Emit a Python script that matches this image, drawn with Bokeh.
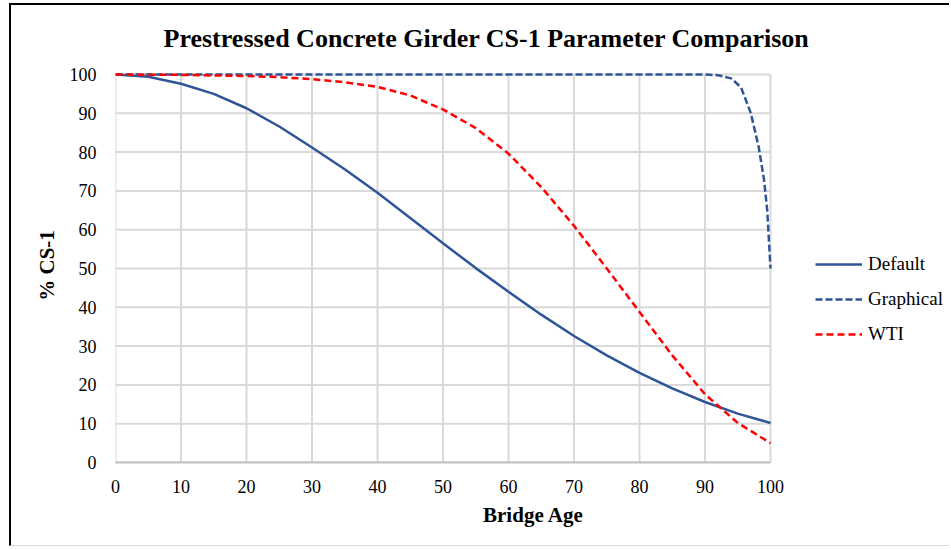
from bokeh.plotting import figure
from bokeh.models import Range1d, Legend, LegendItem, FixedTicker, Label
from bokeh.embed import file_html
from bokeh.resources import INLINE

# ---- data ----
age_default = [0, 5, 10, 15, 20, 25, 30, 35, 40, 45, 50, 55, 60, 65, 70, 75, 80, 85, 90, 95, 100]
pct_default = [100, 99.4, 97.6, 95, 91.3, 86.6, 81.2, 75.6, 69.5, 63.0, 56.5, 50.1, 44.0, 38.1, 32.6, 27.6, 23.1, 19.1, 15.6, 12.6, 10.2]

age_graphical = [0, 90, 92, 94, 95.5, 97, 98.2, 99, 99.5, 100]
pct_graphical = [100, 100, 99.8, 99.0, 96.7, 90.0, 81.3, 73.0, 65.0, 50.0]

age_wti = [0, 10, 20, 25, 30, 35, 40, 45, 50, 55, 60, 65, 70, 75, 80, 85, 90, 95, 100]
pct_wti = [100, 99.9, 99.6, 99.3, 98.8, 98.0, 96.8, 94.6, 91.0, 86.2, 79.6, 71.0, 61.0, 50.0, 38.8, 27.6, 17.6, 10.2, 5.0]

x_ticks = list(range(0, 101, 10))
y_ticks = list(range(0, 101, 10))

title_text = "Prestressed Concrete Girder CS-1 Parameter Comparison"
x_label = "Bridge Age"
y_label = "% CS-1"

BLUE = "#2F5597"
RED = "#FF0000"
FONT = "Liberation Serif"
GRID = "#d9d9d9"

# the frame covers the legend and title area; the data area is 0..100 in both axes
FRAME_W = 940 - 104
DATA_W = 655
X_END = 100 * FRAME_W / DATA_W
FRAME_H = 457
DATA_H = 388
Y_END = 100 * FRAME_H / DATA_H

p = figure(width=940, height=543, output_backend="svg", toolbar_location=None, title=None,
           x_range=Range1d(0, X_END), y_range=Range1d(0, Y_END),
           min_border_left=104, min_border_right=0, min_border_top=0, min_border_bottom=86)
p.styles = {"margin-left": "9px", "margin-top": "3px",
            "border-left": "2px solid black", "border-top": "2px solid black",
            "border-bottom": "1px solid #d9d9d9"}
p.outline_line_color = None
p.background_fill_color = "white"
p.border_fill_color = "white"

p.xaxis.ticker = FixedTicker(ticks=x_ticks)
p.yaxis.ticker = FixedTicker(ticks=y_ticks)
p.xaxis.bounds = (0, 100)
p.yaxis.bounds = (0, 100)
for ax in (p.xaxis[0], p.yaxis[0]):
    ax.major_tick_line_color = None
    ax.minor_tick_line_color = None
    ax.major_label_text_font = FONT
    ax.major_label_text_font_size = "18px"
    ax.major_label_text_color = "black"
    ax.axis_label_text_font = FONT
    ax.axis_label_text_font_size = "21px"
    ax.axis_label_text_font_style = "bold"
    ax.axis_label_text_color = "black"
p.xaxis.axis_line_color = "#bfbfbf"
p.xaxis.axis_line_width = 2
p.yaxis.axis_line_color = None
p.xaxis.major_label_standoff = 11
p.yaxis.major_label_standoff = 13
p.xaxis.axis_label = x_label
# non-breaking padding keeps the label centred on the data area rather than the taller frame
p.yaxis.axis_label = y_label + "\u00a0" * 12
p.xaxis.axis_label_standoff = 7
p.yaxis.axis_label_standoff = 8

p.xgrid.grid_line_color = None
p.ygrid.grid_line_color = None
# gridlines limited to the data area
p.segment(x0=[0] * len(y_ticks), x1=[100] * len(y_ticks), y0=y_ticks, y1=y_ticks,
          line_color=GRID, line_width=2)
p.segment(x0=x_ticks, x1=x_ticks, y0=[0] * len(x_ticks), y1=[100] * len(x_ticks),
          line_color=GRID, line_width=2)

r_def = p.line(age_default, pct_default, line_color=BLUE, line_width=2.5)
r_gra = p.line(age_graphical, pct_graphical, line_color=BLUE, line_width=2.5, line_dash="7 3")
r_wti = p.line(age_wti, pct_wti, line_color=RED, line_width=2.5, line_dash="7 4")

legend = Legend(items=[LegendItem(label="Default", renderers=[r_def]),
                       LegendItem(label="Graphical", renderers=[r_gra]),
                       LegendItem(label="WTI", renderers=[r_wti])],
                location=(700, 117), orientation="vertical",
                border_line_color=None, background_fill_alpha=0,
                padding=0, margin=0, spacing=13, glyph_width=47, glyph_height=20,
                label_height=20, label_standoff=6)
legend.label_text_font = FONT
legend.label_text_font_size = "19px"
legend.label_text_color = "black"
legend.label_text_font_style = "normal"
p.add_layout(legend, "center")

p.add_layout(Label(x=48, y=424, x_units="screen", y_units="screen", text=title_text,
                   text_font=FONT, text_font_size="26px", text_font_style="bold",
                   text_align="left", text_baseline="middle", text_color="black"))

open("out.html", "w").write(file_html(p, INLINE))
